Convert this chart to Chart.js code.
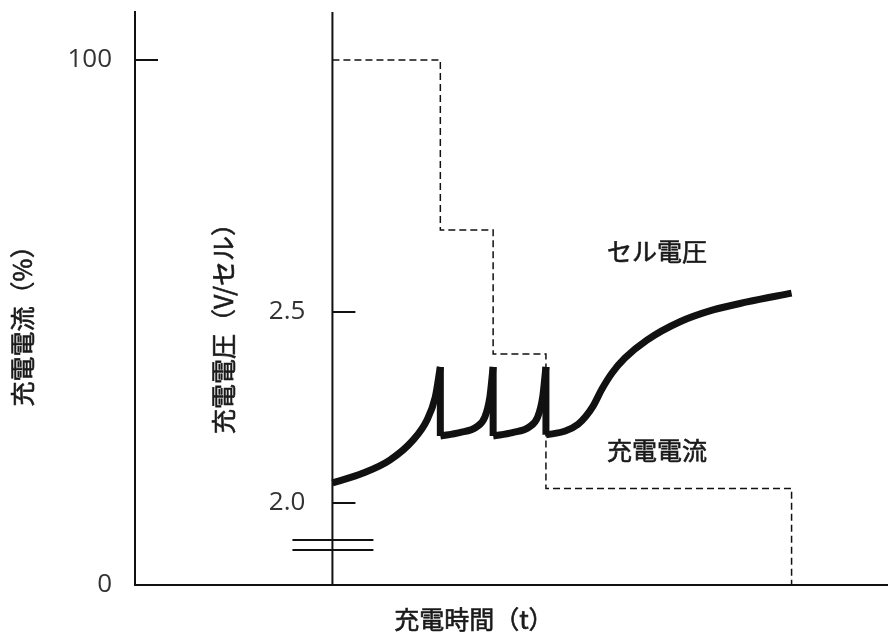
<!DOCTYPE html>
<html>
<head>
<meta charset="utf-8">
<script src="https://cdn.jsdelivr.net/npm/chart.js@4"></script>
<style>
  html, body { margin: 0; padding: 0; background: #fff; }
  #wrap { width: 888px; height: 632px; }
</style>
</head>
<body>
<div id="wrap"><canvas id="chargeChart" width="888" height="632"></canvas></div>
<script>
// charging time in arbitrary units: 0 = start of charge, 100 = end of charge
const currentTimes = [0, 23.5, 35, 46.5, 100];
const currentValues = [100, 67.6, 44, 18.4, 0];   // 充電電流 (%)

// cell voltage (V/セル), one list per rising segment between the drops
const voltTimes1 = [0, 6.7, 12.5, 17.6, 20.6, 22.4, 23.5];
const voltValues1 = [2.052, 2.078, 2.112, 2.165, 2.217, 2.277, 2.356];
const voltTimes2 = [23.5, 27.7, 31.4, 33.2, 34.3, 35];
const voltValues2 = [2.175, 2.184, 2.199, 2.225, 2.278, 2.356];
const voltTimes3 = [35, 39.2, 42.9, 44.7, 45.8, 46.5];
const voltValues3 = [2.175, 2.184, 2.199, 2.225, 2.278, 2.356];
const voltTimes4 = [46.5, 50.7, 53.5, 55.2, 56.8, 58.7, 60.9, 63.7, 68.5, 75.7, 82.9, 90.3, 100];
const voltValues4 = [2.178, 2.188, 2.206, 2.227, 2.254, 2.298, 2.340, 2.379, 2.426, 2.474, 2.505, 2.526, 2.549];
// the sudden drops
const dropTimes = [23.5, 35, 46.5];
const dropTops = [2.356, 2.356, 2.356];
const dropBottoms = [2.175, 2.175, 2.178];

const currentTicks = [0, 100];
const currentTickLabels = ['0', '100'];
const voltageTicks = [2.0, 2.5];
const voltageTickLabels = ['2.0', '2.5'];
const breakMarks = [1.877, 1.903];

const ink = '#111';
const jpFont = '"Noto Sans CJK JP", "Noto Sans", sans-serif';
const numFont = '"Open Sans", "Noto Sans", sans-serif';

let toPoints = (xs, ys) => xs.map((t, i) => ({x: t, y: ys[i]}));

let dropPoints = [];
dropTimes.forEach((t, i) => {
    dropPoints.push({x: t, y: dropTops[i]});
    dropPoints.push({x: t, y: dropBottoms[i]});
    dropPoints.push({x: t, y: null});
});

let voltSegment = (pts) => ({
    data: pts,
    yAxisID: 'y2',
    borderColor: ink,
    borderWidth: 7,
    borderCapStyle: 'butt',
    pointRadius: 0,
    cubicInterpolationMode: 'monotone',
    fill: false
});

const decorations = {
    id: 'decorations',
    beforeDatasetsDraw(chart) {
        const {ctx, chartArea, scales: {x, y, y2}} = chart;
        const axisX = x.getPixelForValue(0);
        ctx.save();
        ctx.strokeStyle = ink;
        ctx.lineWidth = 2;
        ctx.beginPath();
        // voltage axis
        ctx.moveTo(axisX, chartArea.top);
        ctx.lineTo(axisX, chartArea.bottom);
        // ticks point into the plot
        currentTicks.forEach(v => {
            const py = Math.round(y.getPixelForValue(v));
            ctx.moveTo(chartArea.left, py);
            ctx.lineTo(chartArea.left + 23, py);
        });
        voltageTicks.forEach(v => {
            const py = Math.round(y2.getPixelForValue(v));
            ctx.moveTo(axisX, py);
            ctx.lineTo(axisX + 23, py);
        });
        // axis break
        breakMarks.forEach(v => {
            const py = Math.round(y2.getPixelForValue(v));
            ctx.moveTo(axisX - 40, py);
            ctx.lineTo(axisX + 41, py);
        });
        ctx.stroke();

        ctx.fillStyle = '#333';
        ctx.font = '26px ' + numFont;
        ctx.textAlign = 'right';
        ctx.textBaseline = 'middle';
        voltageTicks.forEach((v, i) => {
            ctx.fillText(voltageTickLabels[i], axisX - 27, y2.getPixelForValue(v));
        });
        ctx.restore();
    },
    afterDraw(chart) {
        const {ctx, chartArea, scales: {x, y, y2}} = chart;
        const axisX = x.getPixelForValue(0);
        ctx.save();
        ctx.fillStyle = '#1a1a1a';
        ctx.strokeStyle = '#1a1a1a';
        ctx.lineWidth = 0.6;
        ctx.font = '25px ' + jpFont;
        ctx.textBaseline = 'middle';
        ctx.textAlign = 'center';

        let label = (text, px, py) => {
            ctx.fillText(text, px, py);
            ctx.strokeText(text, px, py);
        };
        let vertical = (text, px, py) => {
            ctx.save();
            ctx.translate(px, py);
            ctx.rotate(-Math.PI / 2);
            label(text, 0, 0);
            ctx.restore();
        };
        vertical('充電電流（%）', chartArea.left - 113, y.getPixelForValue(50.5));
        vertical('充電電圧（V/セル）', axisX - 109, y.getPixelForValue(50));
        label('充電時間（t）', x.getPixelForValue(30.8), chartArea.bottom + 34);

        ctx.textAlign = 'left';
        label('セル電圧', x.getPixelForValue(59.8), y2.getPixelForValue(2.657));
        label('充電電流', x.getPixelForValue(59.8), y.getPixelForValue(25.7));
        ctx.restore();
    }
};

const config = {
    type: 'line',
    data: {
        datasets: [
            {
                data: toPoints(currentTimes, currentValues),
                yAxisID: 'y',
                stepped: true,
                borderColor: ink,
                borderWidth: 1.5,
                borderDash: [7, 4],
                pointRadius: 0,
                fill: false
            },
            voltSegment(toPoints(voltTimes1, voltValues1)),
            voltSegment(toPoints(voltTimes2, voltValues2)),
            voltSegment(toPoints(voltTimes3, voltValues3)),
            voltSegment(toPoints(voltTimes4, voltValues4)),
            {
                data: dropPoints,
                yAxisID: 'y2',
                borderColor: ink,
                borderWidth: 7,
                borderCapStyle: 'butt',
                pointRadius: 0,
                spanGaps: false,
                fill: false
            }
        ]
    },
    options: {
        responsive: false,
        animation: false,
        layout: {
            padding: {top: 12, left: 0, right: 0, bottom: 0}
        },
        plugins: {
            legend: {display: false},
            tooltip: {enabled: false}
        },
        scales: {
            x: {
                type: 'linear',
                min: -43,
                max: 121,
                grid: {display: false},
                ticks: {display: false},
                border: {display: true, color: ink, width: 2},
                afterFit: (s) => {
                    s.height = 47;
                    s.paddingLeft = 0;
                    s.paddingRight = 0;
                }
            },
            y: {
                position: 'left',
                min: 0,
                max: 109.14,
                afterBuildTicks: (s) => { s.ticks = currentTicks.map(v => ({value: v})); },
                grid: {drawOnChartArea: false, drawTicks: false},
                border: {display: true, color: ink, width: 2},
                ticks: {
                    padding: 23,
                    color: '#333',
                    font: {family: numFont, size: 26},
                    callback: (v, i) => currentTickLabels[i]
                },
                afterFit: (s) => {
                    s.width = 135;
                    s.paddingTop = 0;
                    s.paddingBottom = 0;
                }
            },
            y2: {
                display: false,
                position: 'right',
                min: 1.785,
                max: 3.285
            }
        }
    },
    plugins: [decorations]
};

const chargeChart = new Chart(document.getElementById('chargeChart'), config);
</script>
</body>
</html>
